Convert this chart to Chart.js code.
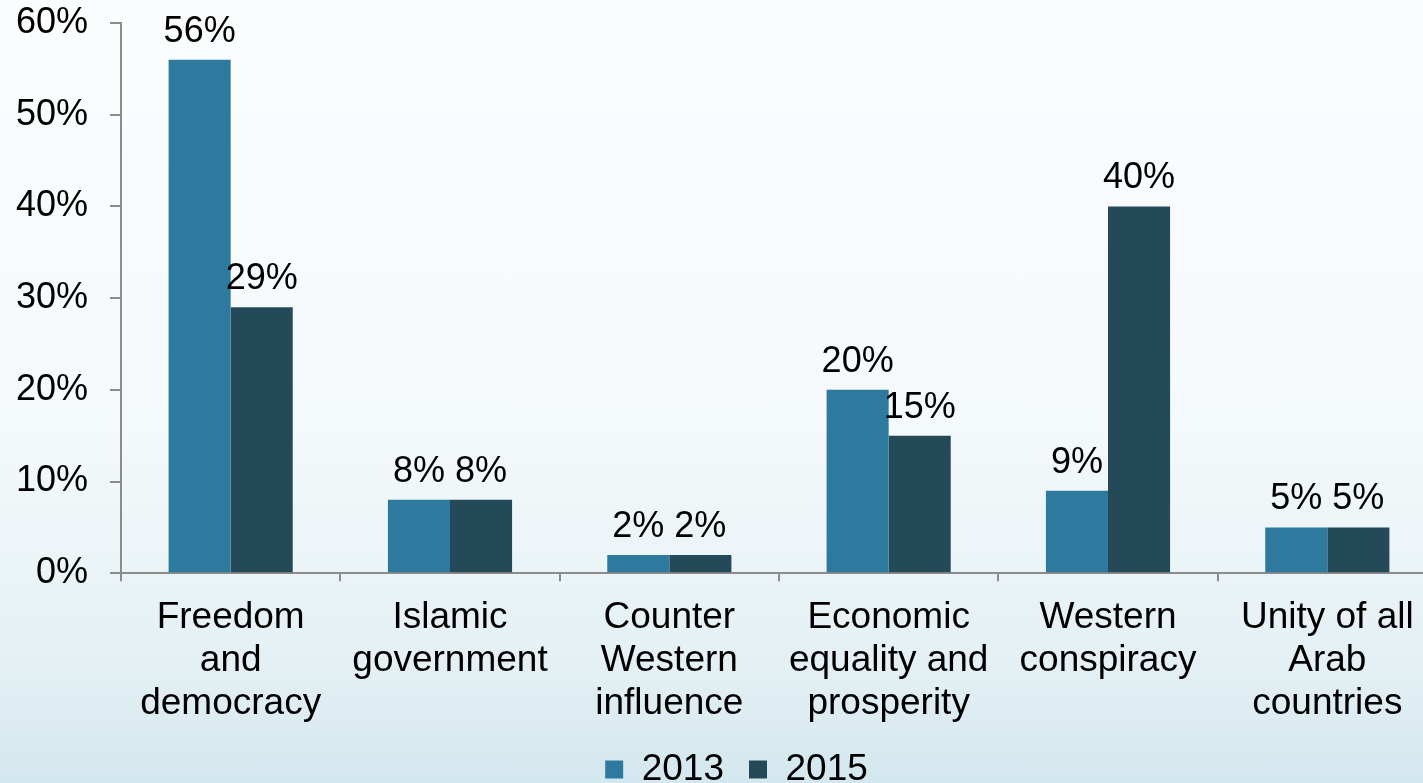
<!DOCTYPE html>
<html>
<head>
<meta charset="utf-8">
<script src="https://cdn.jsdelivr.net/npm/chart.js@4/dist/chart.umd.min.js"></script>
<style>
    html, body {
        margin: 0;
        padding: 0;
        width: 1423px;
        height: 783px;
        overflow: hidden;
        background: linear-gradient(to bottom, #fbfdfe 0%, #f4f9fb 55%, #e4f0f4 85%, #d3e7ee 100%);
    }
    #wrap {
        position: relative;
        width: 1437px;
        height: 783px;
    }
</style>
</head>
<body>
<div id="wrap"><canvas id="mainChart"></canvas></div>
<script>
    // Categorias e valores (%)
    const categories = [
        ['Freedom', 'and', 'democracy'],
        ['Islamic', 'government'],
        ['Counter', 'Western', 'influence'],
        ['Economic', 'equality and', 'prosperity'],
        ['Western', 'conspiracy'],
        ['Unity of all', 'Arab', 'countries']
    ];
    const values2013 = [56, 8, 2, 20, 9, 5];
    const values2015 = [29, 8, 2, 15, 40, 5];
    const yTicks = [0, 10, 20, 30, 40, 50, 60];

    const FONT = "'Liberation Sans', Arial, sans-serif";
    const axisColor = '#8c8c8c';

    // Escreve o valor acima de cada barra
    const valueLabels = {
        id: 'valueLabels',
        afterDatasetsDraw(chart) {
            const ctx = chart.ctx;
            ctx.save();
            ctx.font = `36px ${FONT}`;
            ctx.fillStyle = '#000';
            ctx.textAlign = 'center';
            ctx.textBaseline = 'alphabetic';
            chart.data.datasets.forEach((ds, i) => {
                chart.getDatasetMeta(i).data.forEach((bar, j) => {
                    ctx.fillText(ds.data[j] + '%', bar.x, bar.y - 18);
                });
            });
            ctx.restore();
        }
    };

    // Centraliza a legenda sob a área do gráfico
    const legendShift = {
        id: 'legendShift',
        afterLayout(chart) {
            if (!chart.legend) return;
            chart.legend.left += 18;
            chart.legend.right += 18;
        }
    };

    const ctx = document.getElementById('mainChart').getContext('2d');
    new Chart(ctx, {
        type: 'bar',
        data: {
            labels: categories,
            datasets: [
                { label: '2013', data: values2013, backgroundColor: '#2e7a9e', borderWidth: 0 },
                { label: '2015', data: values2015, backgroundColor: '#244a5a', borderWidth: 0 }
            ]
        },
        options: {
            responsive: true,
            maintainAspectRatio: false,
            animation: false,
            layout: { padding: { top: 23, left: 0, right: 0, bottom: -15 } },
            datasets: { bar: { categoryPercentage: 0.566, barPercentage: 1.0 } },
            plugins: {
                legend: {
                    position: 'bottom',
                    labels: {
                        color: '#000',
                        font: { family: FONT, size: 37 },
                        boxWidth: 18,
                        boxHeight: 18,
                        padding: 25
                    }
                },
                tooltip: { enabled: false }
            },
            scales: {
                x: {
                    afterFit(scale) {
                        scale.height -= 14;
                    },
                    grid: {
                        drawOnChartArea: false,
                        drawTicks: true,
                        tickLength: 8,
                        color: axisColor,
                        lineWidth: 2,
                        offset: true
                    },
                    border: { color: axisColor, width: 2 },
                    ticks: {
                        color: '#000',
                        font: { family: FONT, size: 37, lineHeight: 1.16 },
                        padding: 15,
                        maxRotation: 0,
                        autoSkip: false
                    }
                },
                y: {
                    min: 0,
                    max: 60,
                    afterBuildTicks(scale) {
                        scale.ticks = yTicks.map(v => ({ value: v }));
                    },
                    afterFit(scale) {
                        scale.width = 121;
                        scale.paddingTop = 0;
                        scale.paddingBottom = 0;
                    },
                    grid: {
                        drawOnChartArea: false,
                        drawTicks: true,
                        tickLength: 11,
                        color: axisColor,
                        lineWidth: 2
                    },
                    border: { color: axisColor, width: 2 },
                    ticks: {
                        color: '#000',
                        font: { family: FONT, size: 36 },
                        padding: 22,
                        callback: v => v + '%'
                    }
                }
            }
        },
        plugins: [valueLabels, legendShift]
    });
</script>
</body>
</html>
